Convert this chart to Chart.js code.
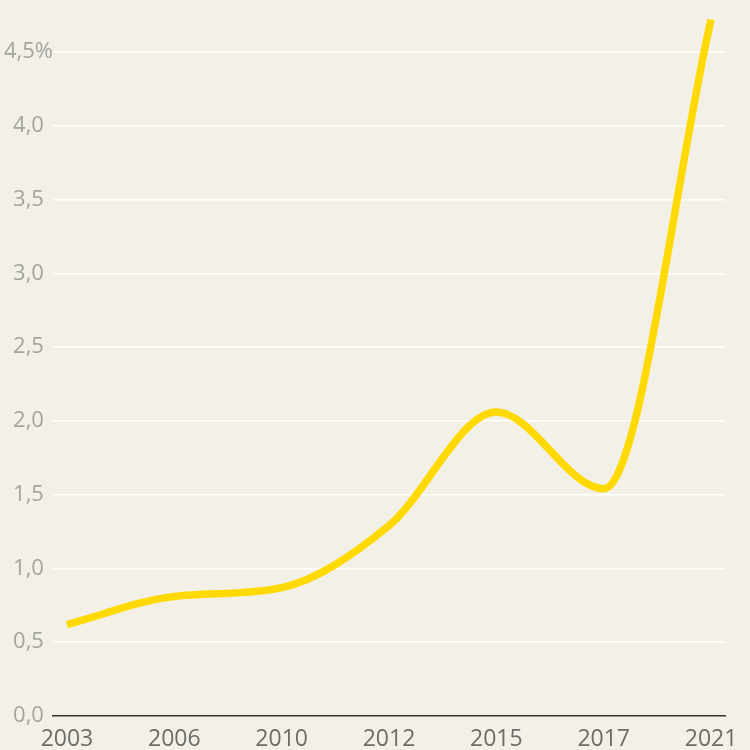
<!DOCTYPE html>
<html>
<head>
<meta charset="utf-8">
<script src="https://cdn.jsdelivr.net/npm/chart.js@4"></script>
<style>
  html, body { margin: 0; padding: 0; background: #f3f1e7; }
  #wrap { width: 750px; height: 750px; }
</style>
</head>
<body>
<div id="wrap"><canvas id="rate"></canvas></div>
<script>
const years = ['2003', '2006', '2010', '2012', '2015', '2017', '2021'];
const rates = [0.62, 0.81, 0.87, 1.29, 2.06, 1.54, 4.72];
const yTicks = [0, 0.5, 1, 1.5, 2, 2.5, 3, 3.5, 4, 4.5];

const ctx = document.getElementById('rate').getContext('2d');
const rateChart = new Chart(ctx, {
    type: 'line',
    data: {
        datasets: [{
            data: rates.map((v, i) => ({x: i, y: v})),
            borderColor: '#ffd900',
            borderWidth: 7.5,
            pointRadius: 0,
            cubicInterpolationMode: 'monotone',
            clip: false,
            fill: false
        }]
    },
    options: {
        responsive: true,
        maintainAspectRatio: false,
        animation: false,
        layout: {padding: {top: 52, right: 25, left: 0, bottom: 0}},
        plugins: {legend: {display: false}, tooltip: {enabled: false}},
        scales: {
            x: {
                type: 'linear',
                min: -0.13,
                max: 6.13,
                afterBuildTicks: (axis) => { axis.ticks = years.map((_, i) => ({value: i})); },
                afterFit: (axis) => { axis.height = 34; },
                grid: {display: false, drawTicks: false},
                border: {display: true, color: '#333333', width: 1.5},
                ticks: {
                    callback: (v) => years[v],
                    color: '#6c6c6a',
                    font: {family: 'Open Sans', size: 23},
                    padding: 10,
                    maxRotation: 0,
                    autoSkip: false
                }
            },
            y: {
                min: 0,
                max: 4.5,
                afterBuildTicks: (axis) => { axis.ticks = yTicks.map(v => ({value: v})); },
                afterFit: (axis) => { axis.width = 53; },
                border: {display: false},
                grid: {
                    color: (c) => c.tick && c.tick.value === 0 ? 'rgba(0,0,0,0)' : '#ffffff',
                    lineWidth: 1.5,
                    drawTicks: false
                },
                ticks: {
                    callback: (v) => v.toFixed(1).replace('.', ',') + (v === 4.5 ? '%' : ''),
                    color: '#a3a3a0',
                    font: {family: 'Open Sans', size: 22},
                    crossAlign: 'center',
                    padding: 0
                }
            }
        }
    }
});
</script>
</body>
</html>
